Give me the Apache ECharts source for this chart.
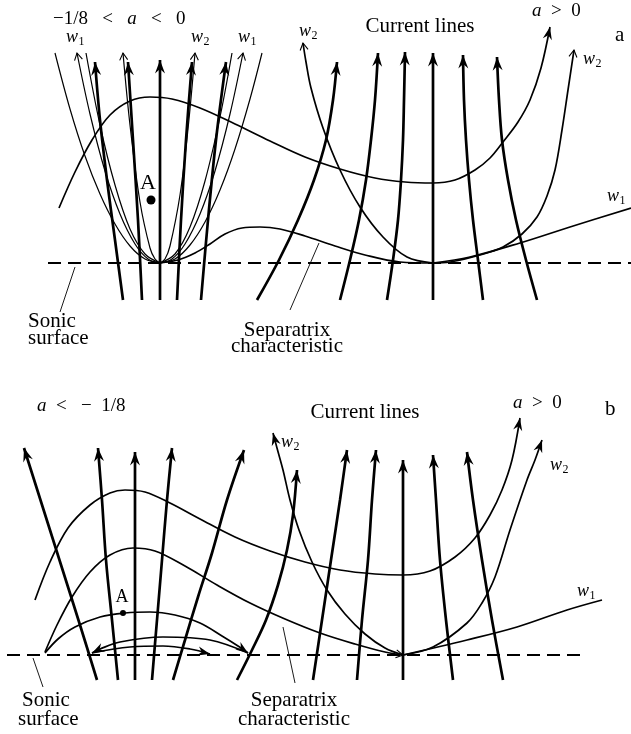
<!DOCTYPE html>
<html><head><meta charset="utf-8">
<script src="https://cdn.jsdelivr.net/npm/echarts/dist/echarts.min.js"></script>
<style>html,body{margin:0;padding:0;background:#fff}#c{width:631px;height:734px}</style>
</head><body><div id="c"></div>
<script>
// ---------- Panel a (−1/8 < a < 0) ----------
const aSonic = [[48,263],[631,263]];
// thin characteristic family through the left focus (focus first, top last)
const aThinOuterL = [[160,263],[145,259],[130,246],[115,224],[100,194],[85,156],[70,109],[55,53]];
const aThinOuterR = [[160,263],[175,259],[190,245],[205,222],[220,190],[235,149],[250,99],[262,53]];
const aThinW1L = [[160,263],[148,259],[135,244],[120,214],[105,171],[90,114],[77,53]];
const aThinW1R = [[160,263],[172,259],[185,244],[200,214],[215,171],[230,114],[243,53]];
const aThinMidL = [[160,263],[145,254],[130,229],[115,185],[100,125],[86,53]];
const aThinMidR = [[160,263],[175,254],[190,227],[205,181],[220,117],[232,53]];
const aThinInL = [[160,263],[155,259],[150,248],[140,202],[130,125],[123,53]];
const aThinInR = [[160,263],[165,259],[170,246],[180,195],[188,129],[195,53]];
// current lines (stream lines), bottom -> arrow tip
const aStream1 = [[123,300],[115,240],[107,180],[100,120],[95,62]];
const aStream2 = [[142,300],[138,220],[133,140],[128,62]];
const aStream3 = [[160,300],[160,180],[160,60]];
const aStream4 = [[177,300],[181,220],[186,140],[192,62]];
const aStream5 = [[201,300],[208,220],[216,140],[226,62]];
const aStream6 = [[257,300],[279,260],[298,220],[314,180],[326,140],[333,100],[337,62]];
const aStream7 = [[340,300],[350,260],[359,220],[366,180],[371,140],[375,100],[378,53]];
const aStream8 = [[387,300],[393,260],[398,220],[401,180],[403,140],[404,100],[405,52]];
const aStream9 = [[433,300],[433,180],[433,53]];
const aStream10 = [[483,300],[478,260],[473,220],[469,180],[466,140],[464,100],[463,55]];
const aStream11 = [[537,300],[526,260],[516,220],[508,180],[502,140],[499,100],[497,57]];
// characteristics
const aHump = [[59,208],[75,172],[92,140],[110,115],[130,101],[150,97],[172,99],[200,108],[235,124],[270,141],[305,157],[340,169],[375,178],[405,182],[433,183],[455,180],[475,170],[490,158],[503,142],[518,122],[530,100],[541,68],[550,27]];
const aSeparatrix = [[160,263],[178,260],[195,253],[210,244],[225,234],[242,228],[260,227],[280,229],[305,236],[335,246],[365,255],[400,262],[433,263]];
const aW1Right = [[433,263],[470,257],[520,243],[570,227],[631,208]];
const aW2Right = [[433,263],[450,262],[480,255],[503,247],[522,234],[537,217],[547,196],[555,170],[562,130],[568,90],[574,50]];
const aW2Left = [[433,263],[407,257],[383,237],[360,207],[340,170],[323,128],[311,88],[306,62],[303,43]];
const aPointerSonic = [[75,267],[60,312]];
const aPointerSep = [[319,243],[290,310]];
const aDotA = [[151,200]];

// ---------- Panel b (a < −1/8) ----------
const bSonic = [[7,655],[587,655]];
const bStream1 = [[97,680],[80,625],[62,568],[43,508],[24,448]];
const bStream2 = [[118,680],[112,620],[106,560],[102,500],[98,448]];
const bStream3 = [[135,680],[135,560],[135,452]];
const bStream4 = [[152,680],[157,620],[162,560],[167,500],[172,448]];
const bStream5 = [[173,680],[185,640],[198,597],[212,553],[227,500],[244,450]];
const bStream6 = [[237,680],[252,650],[266,620],[278,585],[287,550],[293,515],[297,470]];
const bStream7 = [[313,680],[322,620],[331,560],[340,500],[347,450]];
const bStream8 = [[357,680],[362,620],[368,560],[372,500],[376,450]];
const bStream9 = [[403,680],[403,560],[403,460]];
const bStream10 = [[453,680],[446,620],[440,560],[436,500],[433,455]];
const bStream11 = [[503,680],[492,620],[482,560],[473,500],[467,452]];
const bHump = [[35,600],[50,562],[68,528],[90,505],[110,493],[125,490],[145,492],[170,503],[200,519],[235,537],[270,551],[305,562],[340,570],[375,574],[403,575],[430,571],[455,557],[475,538],[490,515],[502,490],[512,460],[520,418]];
const bSeparatrix = [[45,652],[57,625],[72,597],[90,572],[110,555],[133,548],[155,551],[185,566],[217,585],[250,603],[285,619],[320,633],[355,644],[385,652],[403,655]];
const bLow = [[45,653],[58,639],[75,627],[100,617],[125,613],[150,612],[175,615],[200,623],[222,636],[238,646],[248,653]];
const bArcUpper = [[248,653],[210,640],[163,637],[120,642],[100,649],[92,653]];
const bArcLower = [[92,653],[130,647],[163,646],[190,649],[210,654]];
const bW2Left = [[403,655],[385,648],[365,634],[345,614],[327,590],[312,562],[299,530],[290,500],[283,470],[277,448],[273,433]];
const bW2Right = [[403,655],[433,647],[467,623],[482,603],[495,577],[510,530],[527,480],[535,460],[542,440]];
const bW1Right = [[403,655],[467,640],[517,627],[567,610],[602,600]];
const bPointerSonic = [[33,658],[43,687]];
const bPointerSep = [[283,627],[295,683]];
const bDotA = [[123,613]];

// ---------- styling / assembly ----------
const W = {thick: 2.7, char: 1.7, thin: 1.2, ptr: 0.9};
const curves = [
  [aThinOuterL,'thin',null],[aThinOuterR,'thin',null],
  [aThinW1L,'thin','open'],[aThinW1R,'thin','open'],
  [aThinMidL,'thin',null],[aThinMidR,'thin',null],
  [aThinInL,'thin','open'],[aThinInR,'thin','open'],
  [aStream1,'thick','filled'],[aStream2,'thick','filled'],[aStream3,'thick','filled'],
  [aStream4,'thick','filled'],[aStream5,'thick','filled'],[aStream6,'thick','filled'],
  [aStream7,'thick','filled'],[aStream8,'thick','filled'],[aStream9,'thick','filled'],
  [aStream10,'thick','filled'],[aStream11,'thick','filled'],
  [aHump,'char','filled'],[aSeparatrix,'char',null],[aW1Right,'char',null],
  [aW2Right,'char','open'],[aW2Left,'char','open'],
  [aPointerSonic,'ptr',null],[aPointerSep,'ptr',null],
  [bStream1,'thick','filled'],[bStream2,'thick','filled'],[bStream3,'thick','filled'],
  [bStream4,'thick','filled'],[bStream5,'thick','filled'],[bStream6,'thick','filled'],
  [bStream7,'thick','filled'],[bStream8,'thick','filled'],[bStream9,'thick','filled'],
  [bStream10,'thick','filled'],[bStream11,'thick','filled'],
  [bHump,'char','filled'],[bSeparatrix,'char','open'],[bLow,'char','filled'],
  [bArcUpper,'char','filled'],[bArcLower,'char','filled'],
  [bW2Left,'char','filled'],[bW2Right,'char','filled'],[bW1Right,'char',null],
  [bPointerSonic,'ptr',null],[bPointerSep,'ptr',null]
];

const series = [];
curves.forEach(([pts, kind]) => {
  series.push({type:'line', data: pts, smooth: kind === 'ptr' ? false : 0.35, symbol:'none',
    lineStyle:{color:'#000', width: W[kind]}, silent:true, animation:false, z:2});
});
[aSonic, bSonic].forEach(pts => series.push({type:'line', data: pts, symbol:'none',
  lineStyle:{color:'#000', width:2, type:[13,7]}, silent:true, animation:false, z:1}));
series.push({type:'scatter', data: aDotA, symbol:'circle', symbolSize:9, itemStyle:{color:'#000', opacity:1}, silent:true, animation:false, z:5});
series.push({type:'scatter', data: bDotA, symbol:'circle', symbolSize:6, itemStyle:{color:'#000', opacity:1}, silent:true, animation:false, z:5});

const arrowed = curves.filter(c => c[2]);
series.push({
  type:'custom', coordinateSystem:'cartesian2d', silent:true, animation:false, z:6,
  encode:{x:0, y:1},
  data: arrowed.map((c, i) => { const p = c[0][c[0].length-1]; return [p[0], p[1], i]; }),
  renderItem: function (params, api) {
    const c = arrowed[api.value(2)];
    const pts = c[0], n = pts.length;
    const tip = api.coord(pts[n-1]);
    const prev = api.coord(pts[n-2]);
    const ang = Math.atan2(tip[1]-prev[1], tip[0]-prev[0]);
    const ca = Math.cos(ang), sa = Math.sin(ang);
    const R = (x, y) => [tip[0] + x*ca - y*sa, tip[1] + x*sa + y*ca];
    if (c[2] === 'filled') {
      const big = c[1] === 'thick';
      const L = big ? 13.5 : 12.5, H = big ? 5 : 4.6, N = big ? 9 : 8.5;
      return {type:'polygon', shape:{points:[R(0,0), R(-L,H), R(-N,0), R(-L,-H)]}, style:{fill:'#000'}};
    }
    return {type:'polyline', shape:{points:[R(-7,4), R(0,0), R(-7,-4)]}, style:{stroke:'#000', lineWidth:1.1, fill:null}};
  }
});

// ---------- text ----------
const FF = '"Liberation Serif", "Times New Roman", serif';
function T(x, y, text, size, align, italic) {
  return {type:'text', x, y, silent:true, z:10, style:{text, fontFamily:FF, fontSize:size,
    fontStyle: italic ? 'italic' : 'normal', fill:'#000', align: align || 'left', verticalAlign:'middle'}};
}
function R(x, y, text, size) {
  return {type:'text', x, y, silent:true, z:10, style:{text, fontFamily:FF, fontSize:size, fill:'#000',
    align:'left', verticalAlign:'middle', rich:{i:{fontFamily:FF, fontSize:size, fontStyle:'italic'}, t:{fontFamily:FF, fontSize:size}}}};
}
function WL(x, y, sub) {
  return [T(x, y, 'w', 18, 'left', true), T(x + 12.5, y + 5, sub, 12, 'left', false)];
}
const graphic = [
  R(53, 19, '{t|−1/8   <   }{i|a}{t|   <   0}', 19),
  ...WL(66, 37, '1'), ...WL(191, 37, '2'), ...WL(238, 37, '1'), ...WL(299, 31, '2'),
  T(148, 183, 'A', 22, 'center'),
  T(420, 26, 'Current lines', 21, 'center'),
  R(532, 11, '{i|a}{t|  >  0}', 19),
  T(615, 35, 'a', 21),
  ...WL(583, 59, '2'), ...WL(607, 196, '1'),
  T(28, 321, 'Sonic', 21), T(28, 338, 'surface', 21),
  T(287, 330, 'Separatrix', 21, 'center'), T(287, 346, 'characteristic', 21, 'center'),

  R(37, 406, '{i|a}{t|  <   −  1/8}', 19),
  T(365, 412, 'Current lines', 21, 'center'),
  R(513, 403, '{i|a}{t|  >  0}', 19),
  T(605, 409, 'b', 21),
  ...WL(281, 442, '2'), ...WL(550, 465, '2'), ...WL(577, 591, '1'),
  T(122, 597, 'A', 18, 'center'),
  T(22, 700, 'Sonic', 21), T(18, 719, 'surface', 21),
  T(294, 700, 'Separatrix', 21, 'center'), T(294, 719, 'characteristic', 21, 'center')
];

const chart = echarts.init(document.getElementById('c'), null, {renderer:'canvas'});
chart.setOption({
  animation:false,
  backgroundColor:'#fff',
  grid:{left:0, right:0, top:0, bottom:0},
  xAxis:{type:'value', min:0, max:631, show:false},
  yAxis:{type:'value', min:0, max:734, inverse:true, show:false},
  series, graphic
});
</script></body></html>
